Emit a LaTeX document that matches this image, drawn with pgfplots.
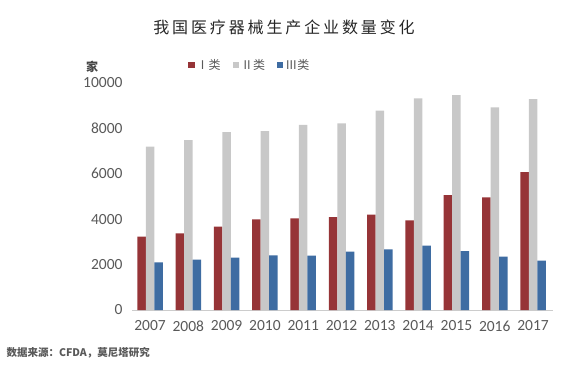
\documentclass[border=0pt]{standalone}
\usepackage{pgfplots}
\pgfplotsset{compat=1.18}
\usepackage{fontspec}
\setmainfont{Noto Sans CJK SC}
\newfontfamily\numfont{Carlito}
\definecolor{cI}{RGB}{150,52,55}
\definecolor{cII}{RGB}{200,200,200}
\definecolor{cIII}{RGB}{62,108,162}
\definecolor{txt}{RGB}{89,89,89}
\begin{document}
\begin{tikzpicture}[x=1pt,y=1pt]
\useasboundingbox (0,0) rectangle (564,365);
\node[font=\fontsize{16}{18}\selectfont\addfontfeatures{LetterSpace=18}, text=black!85] at (284,338) {我国医疗器械生产企业数量变化};
\node[font=\fontsize{12}{14}\selectfont\bfseries, text=txt!80!black] at (92,298) {家};
\node[font=\fontsize{10.5}{12}\selectfont\bfseries, text=txt, anchor=west] at (3,12) {数据来源：CFDA，莫尼塔研究};
\begin{axis}[
  at={(132pt,55pt)}, anchor=south west,
  scale only axis, width=421pt, height=227pt,
  xmin=2006.53, xmax=2017.52, ymin=0, ymax=10000,
  axis x line=bottom, axis y line=left,
  x axis line style={-, draw=black!20, line width=0.8pt},
  y axis line style={draw=none},
  xtick={2007,...,2017}, ytick={0,2000,...,10000},
  scaled ticks=false,
  major tick length=0pt,
  xticklabel style={/pgf/number format/1000 sep={}, font=\numfont\fontsize{15.5}{17}\selectfont, text=txt, yshift=-7pt},
  yticklabel style={/pgf/number format/1000 sep={}, font=\numfont\fontsize{15.5}{17}\selectfont, text=txt, xshift=-6pt},
  /pgf/number format/assume math mode=true,
  ybar, bar width=8.5pt,
  legend columns=3,
  legend style={at={(0.28,1.08)}, anchor=center, draw=none, fill=none,
    font=\fontsize{12}{14}\selectfont, text=txt,
    /tikz/every even column/.append style={column sep=10pt}},
  legend image code/.code={\fill[#1] (0pt,-3.2pt) rectangle (6.4pt,3.2pt);},
]
\addplot[fill=cI, draw=none, bar shift=-8.5pt] coordinates {
(2007,3229) (2008,3379) (2009,3670) (2010,3996) (2011,4040) (2012,4097)
(2013,4200) (2014,3952) (2015,5066) (2016,4965) (2017,6079)};
\addplot[fill=cII, draw=none, bar shift=0pt] coordinates {
(2007,7194) (2008,7489) (2009,7841) (2010,7885) (2011,8150) (2012,8224)
(2013,8780) (2014,9326) (2015,9471) (2016,8929) (2017,9295)};
\addplot[fill=cIII, draw=none, bar shift=8.5pt] coordinates {
(2007,2101) (2008,2216) (2009,2304) (2010,2410) (2011,2392) (2012,2568)
(2013,2672) (2014,2832) (2015,2599) (2016,2348) (2017,2172)};
\legend{Ⅰ类,Ⅱ类,Ⅲ类}
\end{axis}
\end{tikzpicture}
\end{document}
